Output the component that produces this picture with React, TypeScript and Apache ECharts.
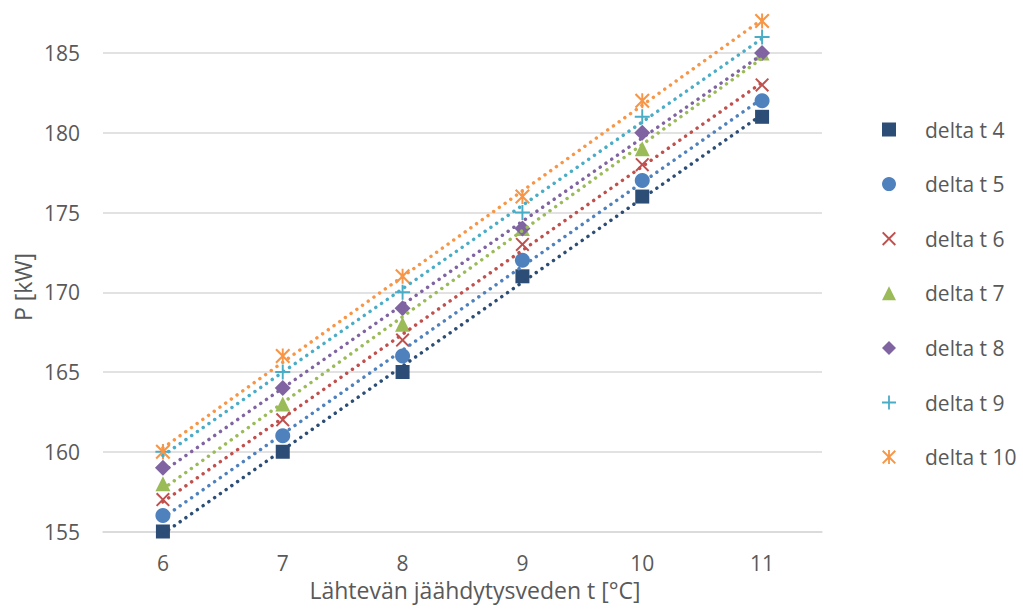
import React, { useEffect, useRef } from "react";
import * as echarts from "echarts";

// Supply water temperature categories (°C)
const temps = ["6", "7", "8", "9", "10", "11"];
const tempValues = [6, 7, 8, 9, 10, 11];

// Power P [kW] for each temperature difference
const seriesNames = ["delta t 4", "delta t 5", "delta t 6", "delta t 7", "delta t 8", "delta t 9", "delta t 10"];
const dt4 = [155, 160, 165, 171, 176, 181];
const dt5 = [156, 161, 166, 172, 177, 182];
const dt6 = [157, 162, 167, 173, 178, 183];
const dt7 = [158, 163, 168, 174, 179, 185];
const dt8 = [159, 164, 169, 174, 180, 185];
const dt9 = [160, 165, 170, 175, 181, 186];
const dt10 = [160, 166, 171, 176, 182, 187];
const seriesValues = [dt4, dt5, dt6, dt7, dt8, dt9, dt10];

const colors = ["#2C4D75", "#4F81BD", "#C0504D", "#9BBB59", "#8064A2", "#4BACC6", "#F79646"];

const CROSS = "path://M0,1.4L1.4,0L7,5.6L12.6,0L14,1.4L8.4,7L14,12.6L12.6,14L7,8.4L1.4,14L0,12.6L5.6,7Z";
const PLUS = "path://M6.1,0L7.9,0L7.9,6.1L14,6.1L14,7.9L7.9,7.9L7.9,14L6.1,14L6.1,7.9L0,7.9L0,6.1L6.1,6.1Z";
const STAR =
  "path://M0,1.4L1.4,0L7,5.6L12.6,0L14,1.4L8.4,7L14,12.6L12.6,14L7,8.4L1.4,14L0,12.6L5.6,7Z M6.1,0L7.9,0L7.9,14L6.1,14Z";
const symbols = ["rect", "circle", CROSS, "triangle", "diamond", PLUS, STAR];
const symbolSizes = [14, 15, 14, 15, 16, 15, 15];

// Least-squares linear fit used for the dotted trend lines
function linearFit(xs: number[], ys: number[]) {
  const n = xs.length;
  const mx = xs.reduce((a, b) => a + b, 0) / n;
  const my = ys.reduce((a, b) => a + b, 0) / n;
  let sxy = 0;
  let sxx = 0;
  for (let i = 0; i < n; i++) {
    sxy += (xs[i] - mx) * (ys[i] - my);
    sxx += (xs[i] - mx) * (xs[i] - mx);
  }
  const slope = sxy / sxx;
  return { slope, intercept: my - slope * mx };
}

const FONT = "'Open Sans', sans-serif";
const TEXT = "#595959";
const GRID_LINE = "#D9D9D9";

export default function App() {
  const ref = useRef<HTMLDivElement>(null);

  useEffect(() => {
    if (!ref.current) return;
    const chart = echarts.init(ref.current, undefined, { renderer: "svg" });

    const trendSeries = seriesValues.map((vals, i) => {
      const { slope, intercept } = linearFit(tempValues, vals);
      const first = tempValues[0];
      const last = tempValues[tempValues.length - 1];
      return {
        type: "line",
        name: seriesNames[i] + " trend",
        data: [
          [temps[0], intercept + slope * first],
          [temps[temps.length - 1], intercept + slope * last],
        ],
        showSymbol: false,
        symbol: "none",
        silent: true,
        z: 3,
        lineStyle: { color: colors[i], width: 3.5, type: [0.01, 7], cap: "round" },
      };
    });

    const scatterSeries = seriesValues.map((vals, i) => ({
      type: "scatter",
      name: seriesNames[i],
      data: vals,
      symbol: symbols[i],
      symbolSize: symbolSizes[i],
      z: 2,
      itemStyle: { color: colors[i], opacity: 1 },
    }));

    chart.setOption({
      animation: false,
      backgroundColor: "#ffffff",
      grid: { left: 103, right: 201, top: 5.15, bottom: 80.5, containLabel: false },
      xAxis: {
        type: "category",
        data: temps,
        boundaryGap: true,
        axisTick: { show: false },
        axisLine: { show: true, lineStyle: { color: GRID_LINE, width: 1.5 } },
        axisLabel: { color: TEXT, fontFamily: FONT, fontSize: 21, lineHeight: 18, margin: 22 },
        splitLine: { show: false },
      },
      yAxis: {
        type: "value",
        min: 155,
        max: 188,
        interval: 5,
        axisLine: { show: false },
        axisTick: { show: false },
        axisLabel: {
          color: TEXT,
          fontFamily: FONT,
          fontSize: 21,
          margin: 23,
          showMaxLabel: false,
          formatter: (v: number) => (v % 5 === 0 ? String(v) : ""),
        },
        splitLine: { show: true, showMaxLine: false, lineStyle: { color: GRID_LINE, width: 1.5 } },
      },
      legend: {
        orient: "vertical",
        left: 877,
        top: 114,
        itemWidth: 14,
        itemHeight: 14,
        itemGap: 33.6,
        data: seriesNames,
        selectedMode: false,
        textStyle: {
          color: TEXT,
          fontFamily: FONT,
          fontSize: 21,
          lineHeight: 20,
          padding: [0, 0, 0, 24],
        },
      },
      graphic: [
        {
          type: "text",
          x: 23,
          y: 287,
          rotation: Math.PI / 2,
          style: {
            text: "P [kW]",
            fill: TEXT,
            font: `23px ${FONT}`,
            textAlign: "center",
            textVerticalAlign: "middle",
          },
        },
        {
          type: "text",
          x: 475,
          y: 590,
          style: {
            text: "Lähtevän jäähdytysveden t [°C]",
            fill: TEXT,
            font: `23px ${FONT}`,
            lineHeight: 20,
            textAlign: "center",
            textVerticalAlign: "middle",
          },
        },
      ],
      series: [...scatterSeries, ...trendSeries],
    });

    return () => chart.dispose();
  }, []);

  return (
    <div
      ref={ref}
      style={{ position: "fixed", left: 0, top: 0, width: 1023, height: 612, background: "#fff" }}
    />
  );
}
